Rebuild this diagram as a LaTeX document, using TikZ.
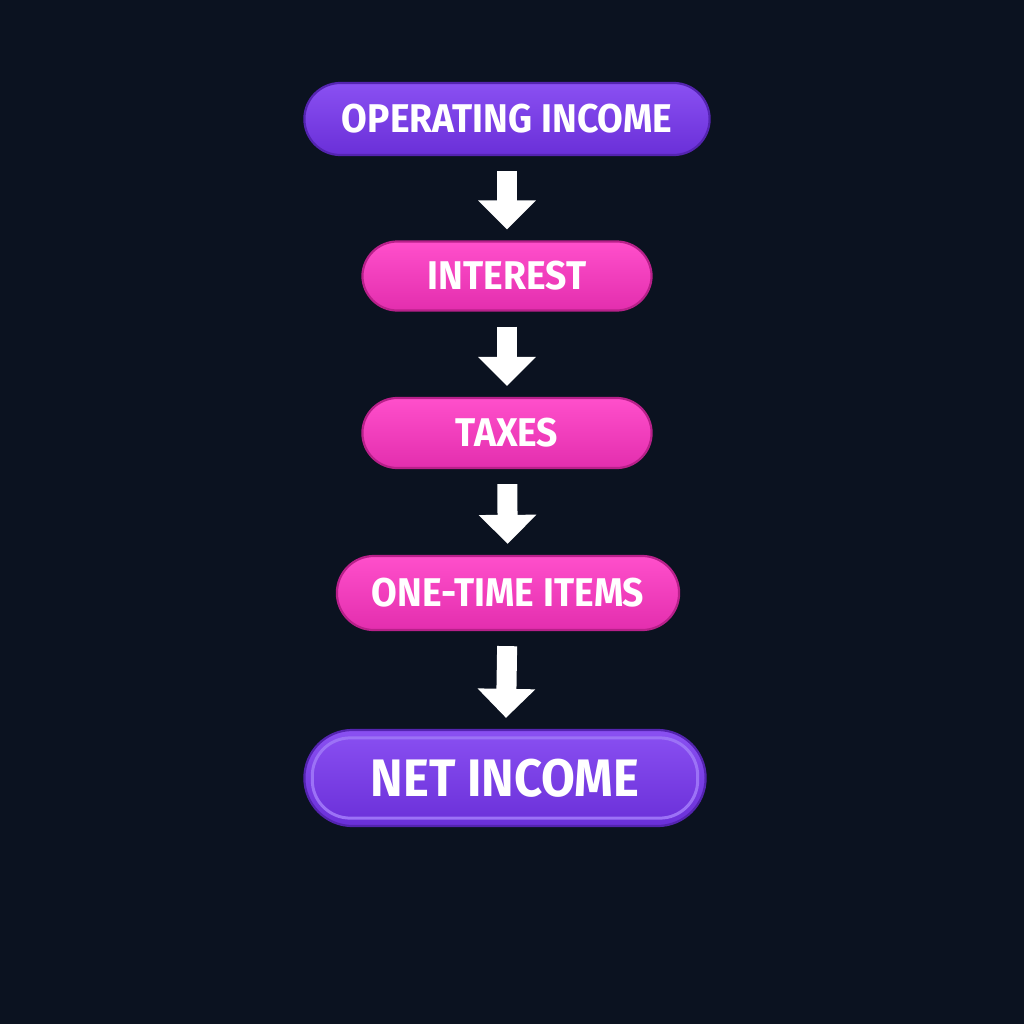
\documentclass[tikz,border=0pt]{standalone}
\usepackage{fontspec}
\setmainfont{Fira Sans}[FakeStretch=0.93]
\usetikzlibrary{arrows.meta,calc}
\definecolor{bgnavy}{HTML}{0B1220}
\definecolor{violettop}{HTML}{8A50F2}
\definecolor{violetbot}{HTML}{6A2FD8}
\definecolor{violetrim}{HTML}{5424B0}
\definecolor{violetglow}{HTML}{9C72F6}
\definecolor{pinktop}{HTML}{FF4FCB}
\definecolor{pinkbot}{HTML}{E32EAE}
\definecolor{pinkrim}{HTML}{B8208A}
\begin{document}
\begin{tikzpicture}[x=0.01cm,y=0.01cm,
		pill/.style={rounded corners=#1, draw, line width=0.022cm, text=white,
			font=\fontsize{11.4}{13}\selectfont\bfseries, inner sep=0pt},
		violetpill/.style={pill=0.36cm, top color=violettop, bottom color=violetbot, draw=violetrim},
		pinkpill/.style={pill=0.35cm, top color=pinktop, bottom color=pinkbot, draw=pinkrim},
		downarrow/.style={draw=white, line width=0.2cm, shorten <=0.15cm, shorten >=0.11cm,
			-{Triangle[width=0.56cm, length=0.29cm]}}]
		\fill [bgnavy] (0,0) rectangle (1024,-1024);
		\node [violetpill, minimum width=4.05cm, minimum height=0.72cm] (opinc) at (507,-119) {OPERATING INCOME};
		\node [pinkpill, minimum width=2.89cm, minimum height=0.69cm] (interest) at (507,-276) {INTEREST};
		\node [pinkpill, minimum width=2.89cm, minimum height=0.70cm] (taxes) at (507,-433) {TAXES};
		\node [pinkpill, minimum width=3.42cm, minimum height=0.74cm, pill=0.37cm] (onetime) at (508,-593) {ONE-TIME ITEMS};
		\node [violetpill, minimum width=4.01cm, minimum height=0.96cm, pill=0.48cm,
			font=\fontsize{15}{17}\selectfont\bfseries] (netinc) at (505,-778) {NET INCOME};
		% inner rim of the result pill
		\draw [violetglow, line width=0.03cm, rounded corners=0.38cm]
			($(netinc.north west)+(9,-9)$) rectangle ($(netinc.south east)+(-9,9)$);
		\draw [downarrow] (opinc) -- (interest);
		\draw [downarrow] (interest) -- (taxes);
		\draw [downarrow] (taxes) -- (onetime);
		\draw [downarrow] (onetime) -- (netinc);
	\end{tikzpicture}
\end{document}
